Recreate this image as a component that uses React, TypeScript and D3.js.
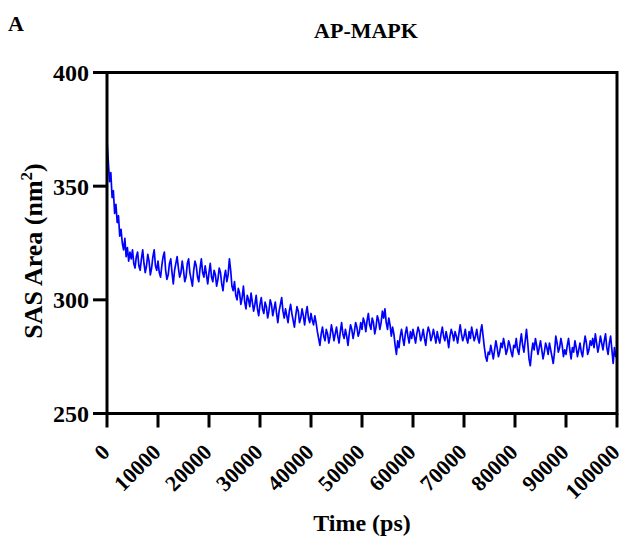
import React from "react";
import * as d3 from "d3";

const TIME_STEP = 250; // ps between samples
const sasArea: number[] = [
  370, 361, 352, 356, 345, 348, 338, 342, 334, 337, 328, 331, 325, 322, 327, 319, 323, 317, 321, 318,
  322, 316, 314, 319, 321, 315, 313, 318, 322, 316, 312, 315, 320, 317, 311, 314, 319, 322, 315, 313,
  317, 312, 310, 315, 319, 321, 313, 309, 311, 316, 318, 312, 307, 313, 316, 319, 314, 310, 312, 317,
  313, 308, 310, 316, 318, 312, 309, 306, 313, 317, 315, 310, 308, 314, 318, 312, 310, 315, 311, 307,
  312, 316, 310, 308, 313, 311, 306, 309, 314, 312, 307, 304, 310, 313, 308, 311, 318, 313, 306, 304,
  308, 302, 300, 305, 303, 298, 301, 306, 299, 296, 302, 300, 297, 303, 299, 295, 298, 302, 296, 293,
  298, 301, 296, 294, 299, 297, 292, 295, 300, 298, 293, 296, 299, 294, 290, 295, 298, 301, 295, 292,
  296, 293, 290, 295, 298, 294, 291, 288, 293, 297, 295, 290, 292, 296, 293, 289, 294, 297, 292, 290,
  294, 291, 289, 293, 290, 286, 283, 280, 285, 288, 284, 282, 287, 285, 281, 284, 289, 286, 282, 285,
  288, 284, 281, 286, 290, 285, 283, 287, 284, 280, 285, 289, 287, 283, 286, 290, 288, 284, 286, 290,
  287, 292, 290, 286, 291, 294, 289, 287, 292, 290, 285, 288, 293, 291, 287, 290, 295, 292, 296, 290,
  287, 292, 289, 284, 288, 285, 280, 276, 282, 279, 284, 287, 283, 280, 285, 288, 284, 281, 286, 283,
  287, 284, 281, 285, 288, 286, 282, 284, 287, 283, 280, 285, 288, 286, 282, 284, 287, 284, 281, 286,
  283, 281, 285, 288, 284, 282, 286, 283, 279, 284, 287, 285, 282, 286, 284, 281, 285, 289, 285, 282,
  284, 287, 283, 281, 286, 283, 288, 285, 282, 284, 287, 283, 281, 286, 289, 284, 279, 275, 273, 277,
  276, 280, 277, 274, 278, 282, 279, 275, 277, 281, 279, 283, 280, 276, 278, 282, 280, 277, 275, 280,
  279, 283, 278, 276, 281, 285, 280, 277, 282, 287, 281, 274, 271, 277, 281, 278, 283, 280, 276, 279,
  282, 278, 274, 277, 281, 279, 276, 281, 278, 275, 272, 277, 284, 281, 277, 279, 283, 280, 275, 278,
  276, 280, 283, 278, 274, 279, 277, 282, 279, 275, 278, 281, 277, 275, 280, 284, 281, 276, 278, 282,
  280, 283, 279, 285, 281, 277, 280, 284, 281, 278, 282, 285, 279, 276, 281, 284, 278, 272, 279, 275,
  278,
];

const xTicks = [0, 10000, 20000, 30000, 40000, 50000, 60000, 70000, 80000, 90000, 100000];
const yTicks = [250, 300, 350, 400];
const title = "AP-MAPK";
const panelLabel = "A";
const xLabel = "Time (ps)";

const W = 625;
const H = 544;
const FONT = '"Liberation Serif", "Times New Roman", Times, serif';
const txt: React.CSSProperties = { fontFamily: FONT, fontWeight: 700 };

export default function App() {
  const left = 107, right = 617, top = 72.5, bottom = 413.5;
  const x = d3.scaleLinear().domain([0, 100000]).range([left, right]);
  const y = d3.scaleLinear().domain([250, 400]).range([bottom, top]);
  const line = d3
    .line<number>()
    .x((_, i) => x(i * TIME_STEP))
    .y((d) => y(d));

  return (
    <svg
      width={W}
      height={H}
      style={{ position: "absolute", left: 0, top: 0, background: "#fff" }}
    >
      <rect x={0} y={0} width={W} height={H} fill="#fff" />
      <text x={8} y={31} fontSize={22} style={txt}>{panelLabel}</text>
      <text x={(left + right) / 2 + 4} y={38} fontSize={22} textAnchor="middle" style={txt}>{title}</text>

      <path d={line(sasArea) || ""} fill="none" stroke="#0000ff" strokeWidth={1.7} strokeLinejoin="round" />

      {/* frame */}
      <rect x={left} y={top} width={right - left} height={bottom - top} fill="none" stroke="#000" strokeWidth={3} />

      {/* y ticks */}
      {yTicks.map((t) => (
        <g key={"y" + t}>
          <line x1={left - 14} x2={left} y1={y(t)} y2={y(t)} stroke="#000" strokeWidth={3} />
          <text x={left - 18} y={y(t)} dy="0.35em" fontSize={24} textAnchor="end" style={txt}>{t}</text>
        </g>
      ))}

      {/* x ticks */}
      {xTicks.map((t) => (
        <g key={"x" + t}>
          <line x1={x(t)} x2={x(t)} y1={bottom} y2={bottom + 14} stroke="#000" strokeWidth={3} />
          <text
            transform={`translate(${x(t) + 4},${bottom + 40}) rotate(-45)`}
            fontSize={22}
            textAnchor="end"
            style={txt}
          >
            {t}
          </text>
        </g>
      ))}

      <text x={(left + right) / 2} y={531} fontSize={24} textAnchor="middle" style={txt}>{xLabel}</text>
      <text transform={`translate(42,${(top + bottom) / 2 + 8}) rotate(-90)`} fontSize={26} textAnchor="middle" style={txt}>
        SAS Area (nm<tspan dy="-10" fontSize={17}>2</tspan><tspan dy="10">)</tspan>
      </text>
    </svg>
  );
}
